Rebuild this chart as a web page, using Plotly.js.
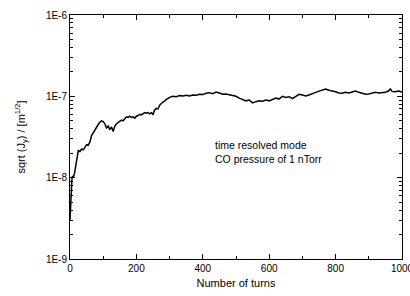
<!DOCTYPE html>
<html><head><meta charset="utf-8">
<script src="https://cdn.plot.ly/plotly-3.0.1.min.js"></script>
<style>html,body{margin:0;padding:0;background:#fff;}#plot{width:410px;height:296px;}</style>
</head><body><div id="plot"></div>
<script>
var turns = [0,2,4,6,8,10,13,16,19,22,25,30,35,40,45,50,55,60,65,70,75,80,85,90,95,100,105,110,115,120,125,130,135,140,145,150,155,160,165,170,175,180,185,190,195,200,205,210,215,220,225,230,235,240,245,250,255,260,265,270,275,280,285,290,295,300,310,320,330,340,350,360,370,380,390,400,410,420,430,440,450,460,470,480,490,500,510,520,530,540,550,560,570,580,590,600,610,620,630,640,650,660,670,680,690,700,710,720,730,740,750,760,770,780,790,800,810,820,830,840,850,860,870,880,890,900,910,920,930,940,950,960,965,970,980,990,1000];
var sqrtJy = [3.0e-9,5.5e-9,8.0e-9,1.0e-8,1.05e-8,1.02e-8,1.1e-8,1.3e-8,1.55e-8,1.9e-8,2.15e-8,2.1e-8,2.25e-8,2.2e-8,2.35e-8,2.55e-8,2.5e-8,2.75e-8,3.3e-8,3.6e-8,3.9e-8,4.3e-8,4.5e-8,4.8e-8,5.0e-8,4.9e-8,4.6e-8,4.1e-8,4.3e-8,3.9e-8,4.2e-8,3.7e-8,4.3e-8,4.6e-8,4.8e-8,4.9e-8,5.1e-8,5.0e-8,5.3e-8,5.6e-8,5.5e-8,5.7e-8,5.5e-8,5.6e-8,5.4e-8,5.7e-8,5.8e-8,6.0e-8,5.9e-8,6.1e-8,6.3e-8,6.2e-8,6.3e-8,6.1e-8,6.3e-8,6.0e-8,6.8e-8,7.1e-8,7.0e-8,7.8e-8,8.2e-8,8.5e-8,8.7e-8,9.2e-8,9.4e-8,9.7e-8,1.0e-7,0.99e-7,1.02e-7,1.01e-7,1.03e-7,1.01e-7,1.04e-7,1.03e-7,1.06e-7,1.05e-7,1.09e-7,1.11e-7,1.08e-7,1.13e-7,1.10e-7,1.06e-7,1.07e-7,1.04e-7,1.03e-7,1.0e-7,0.95e-7,0.92e-7,0.88e-7,0.90e-7,0.83e-7,0.86e-7,0.88e-7,0.87e-7,0.90e-7,0.88e-7,0.91e-7,0.95e-7,0.93e-7,1.0e-7,0.97e-7,0.99e-7,0.94e-7,1.0e-7,1.06e-7,1.04e-7,1.01e-7,1.04e-7,1.09e-7,1.12e-7,1.16e-7,1.2e-7,1.23e-7,1.19e-7,1.17e-7,1.14e-7,1.10e-7,1.09e-7,1.12e-7,1.10e-7,1.13e-7,1.16e-7,1.12e-7,1.08e-7,1.06e-7,1.07e-7,1.10e-7,1.12e-7,1.10e-7,1.12e-7,1.12e-7,1.17e-7,1.23e-7,1.15e-7,1.14e-7,1.16e-7,1.13e-7];
var yTickVals = [1e-9,1e-8,1e-7,1e-6];
var yTickText = ["1E-9","1E-8","1E-7","1E-6"];
var xTickVals = [0,200,400,600,800,1000];
var xTickText = ["0","200","400","600","800","1000"];
var noteText = "time resolved mode<br>CO pressure of 1 nTorr";

var minorY = [];
for (var e = -9; e < -6; e++) { for (var m = 2; m <= 9; m++) { minorY.push(m * Math.pow(10, e)); } }

var font = {family: "Liberation Sans, Arial, sans-serif", color: "#000"};
var trace = {x: turns, y: sqrtJy, type: "scatter", mode: "lines",
  line: {color: "#000", width: 1.5}, hoverinfo: "skip"};
var layout = {
  width: 410, height: 296,
  margin: {l: 70, r: 8, t: 15, b: 37},
  paper_bgcolor: "#fff", plot_bgcolor: "#fff",
  showlegend: false,
  font: {family: font.family, size: 10, color: "#000"},
  xaxis: {range: [0, 1000], tickmode: "array", tickvals: xTickVals, ticktext: xTickText,
    ticks: "inside", ticklen: 5, tickwidth: 1, tickcolor: "#000", ticklabeloverflow: "allow",
    minor: {tickmode: "array", tickvals: [100,300,500,700,900], ticks: "inside", ticklen: 3, tickcolor: "#000"},
    showline: true, linecolor: "#000", linewidth: 1, mirror: "allticks", showgrid: false, zeroline: false,
    tickfont: {family: font.family, size: 10, color: "#000"},
    title: {text: "Number of turns", font: {family: font.family, size: 11, color: "#000"}, standoff: 6}},
  yaxis: {type: "log", range: [-9, -6], tickmode: "array", tickvals: yTickVals, ticktext: yTickText,
    ticks: "inside", ticklen: 5, tickwidth: 1, tickcolor: "#000",
    minor: {tickmode: "array", tickvals: minorY, ticks: "inside", ticklen: 3, tickcolor: "#000"},
    showline: true, linecolor: "#000", linewidth: 1, mirror: "allticks", showgrid: false, zeroline: false,
    tickfont: {family: font.family, size: 10, color: "#000"},
    title: {text: "sqrt (J<sub>y</sub>) / [m<sup>1/2</sup>]", font: {family: font.family, size: 11, color: "#000"}, standoff: 18}},
  annotations: [{x: 431, y: 0.5, xref: "x", yref: "paper", xanchor: "left", yanchor: "top",
    align: "left", showarrow: false, text: noteText,
    font: {family: font.family, size: 10.5, color: "#000"}}]
};
Plotly.newPlot("plot", [trace], layout, {staticPlot: true, displayModeBar: false});
</script></body></html>
